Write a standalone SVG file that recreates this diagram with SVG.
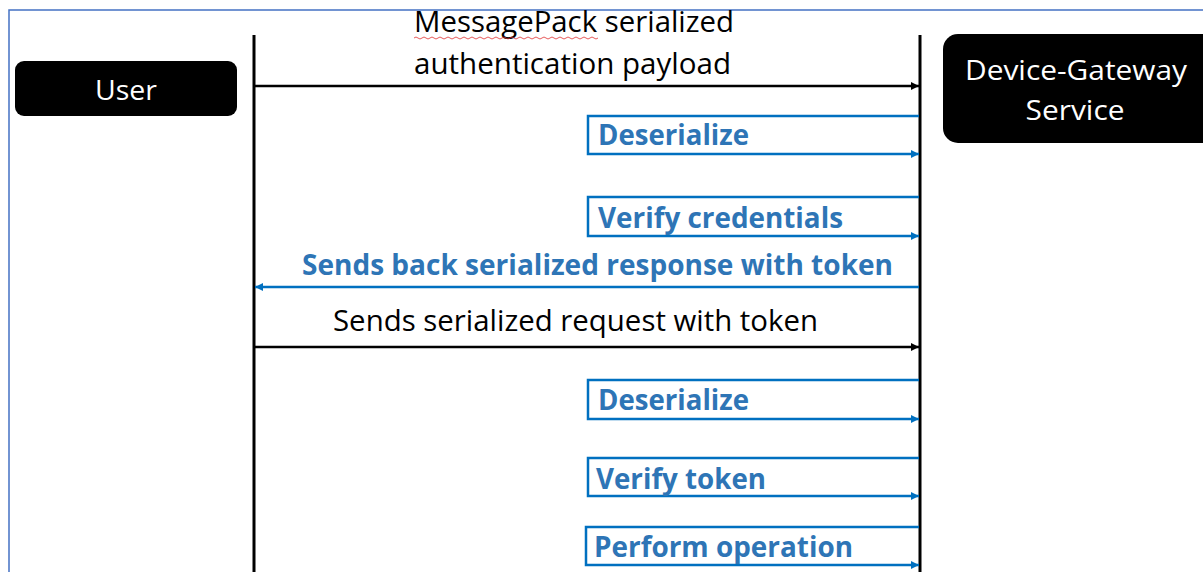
<svg xmlns="http://www.w3.org/2000/svg" width="1203" height="572" viewBox="0 0 1203 572">
<defs>
<style>
.frame{fill:none;stroke:#4472C4;stroke-width:1.5}
.life{stroke:#000;stroke-width:3}
.blk{fill:none;stroke:#000;stroke-width:2.5}
.blu{fill:none;stroke:#0070C0;stroke-width:2.5}
.node{fill:#000}
.nt{fill:#fff;font-family:"Open Sans","Noto Sans",sans-serif;font-size:28px;text-anchor:middle}
.lbl{fill:#000;font-family:"Open Sans","Noto Sans",sans-serif;font-size:29px}
.blbl{fill:#2E75B6;font-family:"Open Sans","Noto Sans",sans-serif;font-size:29px;font-weight:bold}
</style>
<marker id="ab" viewBox="0 0 10 10" refX="10" refY="5" markerWidth="10" markerHeight="8" markerUnits="userSpaceOnUse" orient="auto"><path d="M0,0 L10,5 L0,10 z" fill="#000"/></marker>
<marker id="au" viewBox="0 0 10 10" refX="10" refY="5" markerWidth="10" markerHeight="8" markerUnits="userSpaceOnUse" orient="auto"><path d="M0,0 L10,5 L0,10 z" fill="#0070C0"/></marker>
</defs>
<rect width="1203" height="572" fill="#fff"/>
<path class="frame" d="M9,572 L9,10 L1203,10"/>

<g id="user">
<rect class="node" x="15" y="61" width="222" height="55" rx="9"/>
<text class="nt" x="126" y="100" textLength="62" lengthAdjust="spacingAndGlyphs">User</text>
</g>
<g id="gateway">
<rect class="node" x="943" y="34" width="275" height="109" rx="15"/>
<text class="nt" x="1076" y="80" textLength="222" lengthAdjust="spacingAndGlyphs">Device-Gateway</text>
<text class="nt" x="1075" y="120" textLength="99" lengthAdjust="spacingAndGlyphs">Service</text>
</g>

<g id="lifelines">
<line class="life" x1="254" y1="35" x2="254" y2="572"/>
<line class="life" x1="920" y1="35" x2="920" y2="572"/>
</g>

<g id="connectors">
<line class="blk" x1="255" y1="86" x2="919" y2="86" marker-end="url(#ab)"/>
<polyline class="blu" points="919,116 588,116 588,154 919,154" marker-end="url(#au)"/>
<polyline class="blu" points="919,197 588,197 588,236 919,236" marker-end="url(#au)"/>
<line class="blu" x1="919" y1="287" x2="255" y2="287" marker-end="url(#au)"/>
<line class="blk" x1="255" y1="347" x2="919" y2="347" marker-end="url(#ab)"/>
<polyline class="blu" points="919,380 588,380 588,419 919,419" marker-end="url(#au)"/>
<polyline class="blu" points="919,458 588,458 588,496 919,496" marker-end="url(#au)"/>
<polyline class="blu" points="919,527 586,527 586,565 919,565" marker-end="url(#au)"/>
</g>

<g id="labels">
<text class="lbl" x="414" y="32" textLength="320" lengthAdjust="spacingAndGlyphs">MessagePack serialized</text>
<path d="M414,38 q2,-2 4,0 t4,0 t4,0 t4,0 t4,0 t4,0 t4,0 t4,0 t4,0 t4,0 t4,0 t4,0 t4,0 t4,0 t4,0 t4,0 t4,0 t4,0 t4,0 t4,0 t4,0 t4,0 t4,0 t4,0 t4,0 t4,0 t4,0 t4,0 t4,0 t4,0 t4,0 t4,0 t4,0 t4,0 t4,0 t4,0 t4,0 t4,0 t4,0 t4,0 t4,0 t4,0 t4,0 t4,0 t4,0 t4,0" fill="none" stroke="#E03030" stroke-width="0.8"/>
<text class="lbl" x="414" y="74" textLength="317" lengthAdjust="spacingAndGlyphs">authentication payload</text>
<text class="blbl" x="598" y="145" textLength="151" lengthAdjust="spacingAndGlyphs">Deserialize</text>
<text class="blbl" x="598" y="228" textLength="245" lengthAdjust="spacingAndGlyphs">Verify credentials</text>
<text class="blbl" x="302" y="275" textLength="591" lengthAdjust="spacingAndGlyphs">Sends back serialized response with token</text>
<text class="lbl" x="333" y="331" textLength="485" lengthAdjust="spacingAndGlyphs">Sends serialized request with token</text>
<text class="blbl" x="598" y="410" textLength="151" lengthAdjust="spacingAndGlyphs">Deserialize</text>
<text class="blbl" x="596" y="489" textLength="170" lengthAdjust="spacingAndGlyphs">Verify token</text>
<text class="blbl" x="594" y="557" textLength="259" lengthAdjust="spacingAndGlyphs">Perform operation</text>
</g>
</svg>
